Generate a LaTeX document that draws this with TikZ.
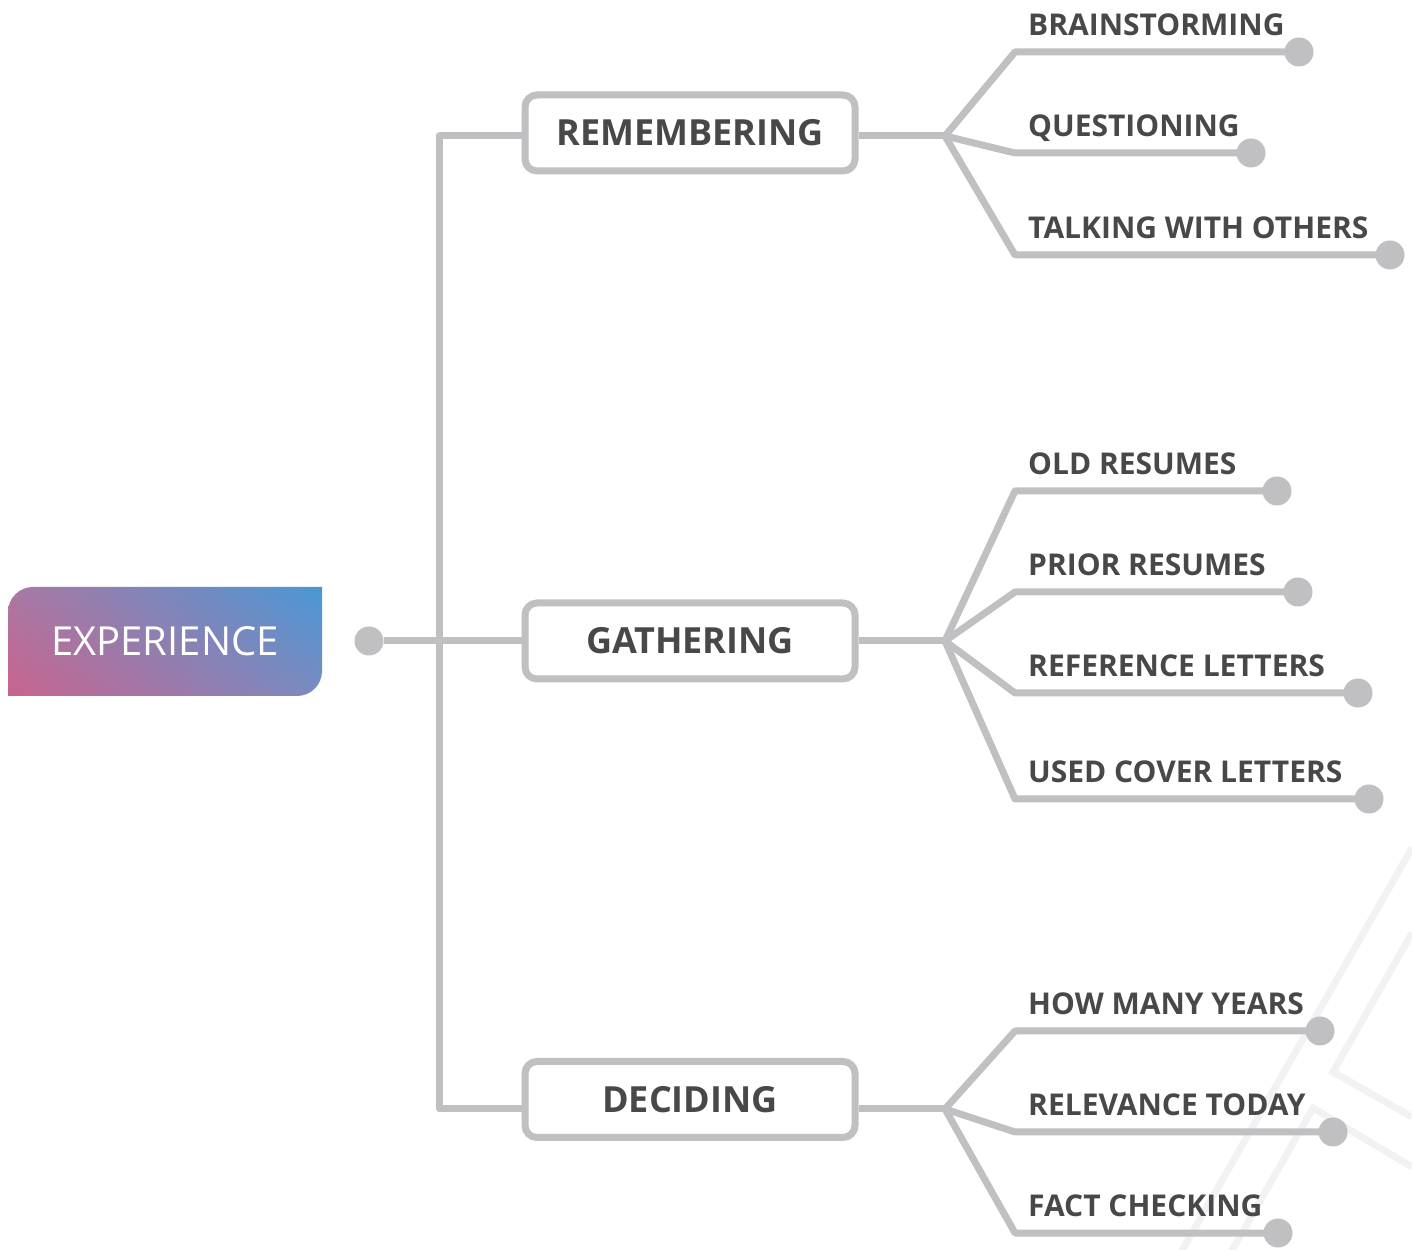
\documentclass[tikz,border=0pt]{standalone}
\usepackage{fontspec}
\setmainfont{Open Sans}
\usetikzlibrary{shadings}
\definecolor{ln}{HTML}{C0BFC1}
\definecolor{txt}{HTML}{48484A}
\definecolor{faint}{HTML}{F2F2F4}
\definecolor{gLL}{HTML}{C8638E}
\definecolor{gUR}{HTML}{4A97D6}
\definecolor{gUL}{HTML}{AB78A3}
\definecolor{gLR}{HTML}{7A8BC0}
\tikzset{
  conn/.style={draw=ln, line width=7pt, line join=round},
  stepbox/.style={draw=ln, line width=7pt, rounded corners=12pt, fill=white,
    minimum width=330pt, minimum height=76pt, inner sep=0pt,
    font=\fontsize{36}{42}\selectfont\bfseries, text=txt},
  leaflabel/.style={anchor=base west, inner sep=0pt,
    font=\fontsize{30}{34}\selectfont\bfseries, text=txt},
  enddot/.style={circle, fill=ln, minimum size=29pt, inner sep=0pt},
  faintline/.style={draw=faint, line width=7pt},
}
\begin{document}
\begin{tikzpicture}[x=1pt,y=1pt]
\useasboundingbox (0,0) rectangle (1412,1249);
% faint background lines
\draw[faintline] (1412,401) -- (1180,-5);
\draw[faintline] (1412,316) -- (1333,177) -- (1412,132);
\draw[faintline] (1230,-5) -- (1313,141) -- (1412,82);
% root
\shade[lower left=gLL, upper right=gUR, upper left=gUL, lower right=gLR]
  (8,553) -- (8,637) arc[start angle=180,end angle=90,radius=25] -- (322,662)
  -- (322,578) arc[start angle=0,end angle=-90,radius=25] -- cycle;
\node[text=white, font=\fontsize{40}{46}\selectfont] (root) at (165,607.5) {EXPERIENCE};
\node[enddot] (rdot) at (369,608) {};
% trunk
\coordinate (tR) at (439,1113);
\coordinate (tG) at (439,608);
\coordinate (tD) at (439,140);
\node[stepbox] (R) at (690,1116) {REMEMBERING};
\node[stepbox] (G) at (690,608) {GATHERING};
\node[stepbox] (D) at (690,149.5) {DECIDING};
\draw[conn] (R.west |- tR) -- (tR) -- (tD) -- (D.west |- tD);
\draw[conn] (rdot) -- (G.west);
% branch vertices
\coordinate (bR) at (945,1113);
\coordinate (bG) at (945,608);
\coordinate (bD) at (945,140);
\draw[conn] (R.east |- bR) -- (bR);
\draw[conn] (G.east) -- (bG);
\draw[conn] (D.east |- bD) -- (bD);
% leaves
\foreach \b/\name/\y/\dx/\txt in {
  bR/l1/1197/1299/BRAINSTORMING,
  bR/l2/1096/1251/QUESTIONING,
  bR/l3/994/1390/TALKING WITH OTHERS,
  bG/l4/758/1277/OLD RESUMES,
  bG/l5/657/1298/PRIOR RESUMES,
  bG/l6/556/1358/REFERENCE LETTERS,
  bG/l7/450/1369/USED COVER LETTERS,
  bD/l8/218/1320/HOW MANY YEARS,
  bD/l9/117/1333/RELEVANCE TODAY,
  bD/l10/16/1278/FACT CHECKING}{
  \coordinate (\name e) at (1015,\y);
  \node[enddot] (\name d) at (\dx,\y) {};
  \draw[conn] (\b) -- (\name e) -- (\name d.center);
  \node[leaflabel] (\name t) at (1028,\y+16) {\txt};
}
\end{tikzpicture}
\end{document}
